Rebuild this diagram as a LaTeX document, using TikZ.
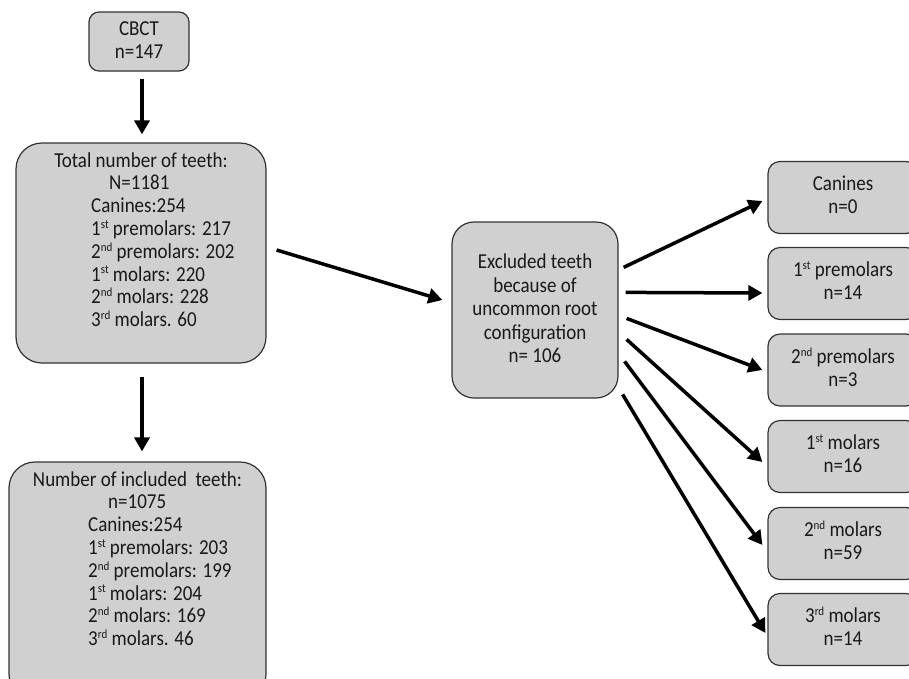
\documentclass[tikz,border=0pt]{standalone}
\usepackage{fontspec}
\usepackage{graphicx}
\setmainfont{Carlito}
\usetikzlibrary{arrows.meta,calc}
\definecolor{boxgray}{RGB}{208,208,208}
\definecolor{edgegray}{RGB}{50,50,50}
\newcommand\mysup[1]{\raisebox{6.3pt}{\fontsize{11}{11}\selectfont #1}}
\newcommand\vs[1]{\scalebox{1}[1.12]{#1}}
\newcommand\vstack[1]{\scalebox{1}[1.12]{\begin{tabular}{@{}c@{}}#1\end{tabular}}}
\begin{document}
\begin{tikzpicture}[x=1pt,y=-1pt,
  box/.style={draw=edgegray,fill=boxgray,line width=1.2pt,inner sep=0pt},
  txt/.style={inner sep=0pt,text=black!90,font=\fontsize{19}{20.5}\selectfont},
  arr/.style={line width=3.5pt,-{Triangle[length=14pt,width=15pt]}}]
\useasboundingbox (0,0) rectangle (909,678);
\clip (0,0) rectangle (909,678);
% boxes
\node[box,rounded corners=10pt,minimum width=100pt,minimum height=59pt] (cbct) at (139,41.5) {};
\node[txt] (cbcttxt) at (139,42) {\vstack{CBCT\\n=147}};
\node[box,rounded corners=26pt,minimum width=250pt,minimum height=220pt] (tot) at (141,253) {};
\node[box,rounded corners=26pt,minimum width=257pt,minimum height=238pt] (inc) at (137.5,581) {};
\node[box,rounded corners=22pt,minimum width=166pt,minimum height=176pt] (ex) at (535,310) {};
\node[txt,font=\fontsize{19}{21}\selectfont] (extxt) at (535,311) {\vstack{Excluded teeth\\because of\\uncommon root\\configuration\\n= 106}};
\foreach \n/\cy/\t in {r1/197.5/{Canines\\n=0},
                      r2/283.5/{1\mysup{st} premolars\\n=14},
                      r3/370/{2\mysup{nd} premolars\\n=3},
                      r4/456.5/{1\mysup{st} molars\\n=16},
                      r5/543.5/{2\mysup{nd} molars\\n=59},
                      r6/629.5/{3\mysup{rd} molars\\n=14}}
  {\node[box,rounded corners=12pt,minimum width=150pt,minimum height=72pt] (\n) at (843,\cy) {};
   \node[txt] (\n txt) at (\n.center) {\vstack{\t}};}
% texts of total box
\node[txt,anchor=base] (tothead) at (141,167) {\vs{Total number of teeth:}};
\node[txt,anchor=base west] (totn) at (109,189.8) {\vs{N=1181}};
\foreach \t [count=\i] in {{Canines:254},{1\mysup{st} premolars: 217},{2\mysup{nd} premolars: 202},
    {1\mysup{st} molars: 220},{2\mysup{nd} molars: 228},{3\mysup{rd} molars. 60}}
  \node[txt,anchor=base west] (totl\i) at (91,189.8+22.8*\i) {\vs{\t}};
% texts of included box
\node[txt,anchor=base] (inchead) at (137.5,486) {\vs{Number of included\ \ teeth:}};
\node[txt,anchor=base west] (incn) at (108,508.8) {\vs{n=1075}};
\foreach \t [count=\i] in {{Canines:254},{1\mysup{st} premolars: 203},{2\mysup{nd} premolars: 199},
    {1\mysup{st} molars: 204},{2\mysup{nd} molars: 169},{3\mysup{rd} molars. 46}}
  \node[txt,anchor=base west] (incl\i) at (88,508.8+22.8*\i) {\vs{\t}};
% arrows
\draw[arr,shorten <=7pt,shorten >=8pt] ($(cbct.south)+(3,0)$) -- ($(cbct.south |- tot.north)+(3,0)$);
\draw[arr,shorten <=13pt,shorten >=10pt] ($(tot.south)+(1,0)$) -- ($(tot.south |- inc.north)+(1,0)$);
\draw[arr] ([shift={(10,-3)}]tot.east) -- ([shift={(-9,-10)}]ex.west);
\draw[arr] ([shift={(5,46)}]ex.north east) -- ([shift={(-5,3.5)}]r1.west);
\draw[arr] ([shift={(7,71)}]ex.north east) -- ([shift={(-5,9.5)}]r2.west);
\draw[arr] ([shift={(8,97)}]ex.north east) -- ([shift={(-5,0)}]r3.west);
\draw[arr] ([shift={(8,118)}]ex.north east) -- ([shift={(-5,5.5)}]r4.west);
\draw[arr] ([shift={(6,140)}]ex.north east) -- ([shift={(-5,1.5)}]r5.west);
\draw[arr] ([shift={(4,173)}]ex.north east) -- ([shift={(-2,3.5)}]r6.west);
\end{tikzpicture}
\end{document}
